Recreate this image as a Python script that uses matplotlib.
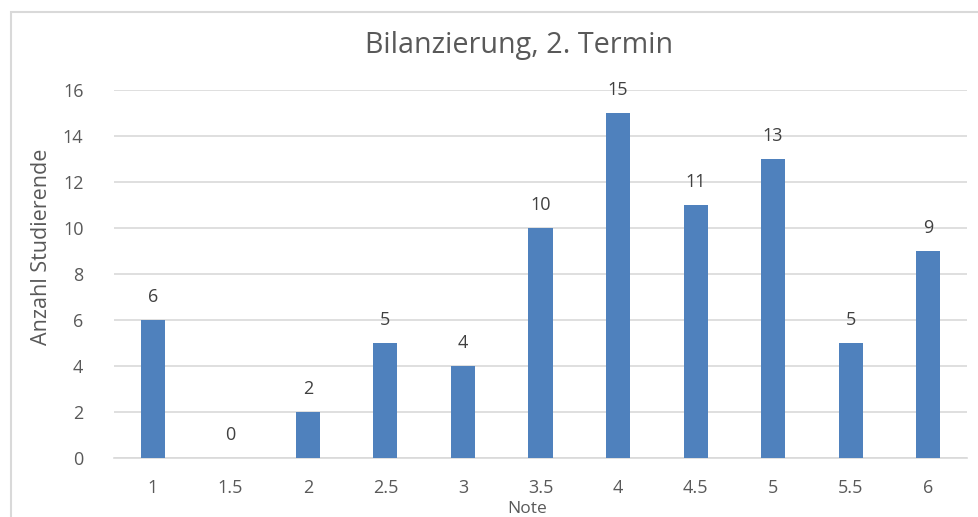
import matplotlib
matplotlib.use("Agg")
import matplotlib.pyplot as plt
from matplotlib.patches import Rectangle

categories = ["1", "1.5", "2", "2.5", "3", "3.5", "4", "4.5", "5", "5.5", "6"]
values = [6, 0, 2, 5, 4, 10, 15, 11, 13, 5, 9]
yticks = [0, 2, 4, 6, 8, 10, 12, 14, 16]

plt.rcParams['font.family'] = ['Open Sans', 'DejaVu Sans']
txt = '#595959'
grid = '#d9d9d9'

fig = plt.figure(figsize=(9.79, 5.17), dpi=100)
ax = fig.add_axes([114/979, 1-458/517, (967-114)/979, (458-90)/517])

x = list(range(len(categories)))
ax.bar(x, values, width=0.31, color='#4f81bd', zorder=3)
for xi, v in zip(x, values):
    ax.annotate(str(v), (xi, v), xytext=(0, 10), textcoords='offset points',
                ha='center', va='bottom', fontsize=13, color='#404040')

ax.set_xlim(-0.5, len(categories) - 0.5)
ax.set_ylim(0, 16)
ax.set_yticks(yticks)
ax.set_yticklabels([str(t) for t in yticks])
ax.set_xticks(x)
ax.set_xticklabels(categories)
ax.tick_params(axis='both', length=0, labelsize=13, colors=txt)
ax.tick_params(axis='x', pad=15)
ax.tick_params(axis='y', pad=22)
ax.yaxis.grid(True, color=grid, lw=1.2, zorder=0)
for s in ['top', 'right', 'left']:
    ax.spines[s].set_visible(False)
ax.spines['bottom'].set_color(grid)
ax.spines['bottom'].set_linewidth(1.2)

fig.text(42/979, 1-247/517, "Anzahl Studierende", rotation=90, ha='center',
         va='center', fontsize=15.5, color=txt)
fig.text(527/979, 1-509/517, "Note", ha='center', va='center',
         fontsize=12.5, color=txt)
fig.text(519/979, 1-45/517, "Bilanzierung, 2. Termin", ha='center', va='center',
         fontsize=20.7, color=txt)

fig.patches.append(Rectangle((11/979, -0.1), 1.2, 1.1 - 12/517,
                             transform=fig.transFigure, fill=False,
                             edgecolor=grid, lw=1.5))

fig.savefig("out.png", dpi=100)
